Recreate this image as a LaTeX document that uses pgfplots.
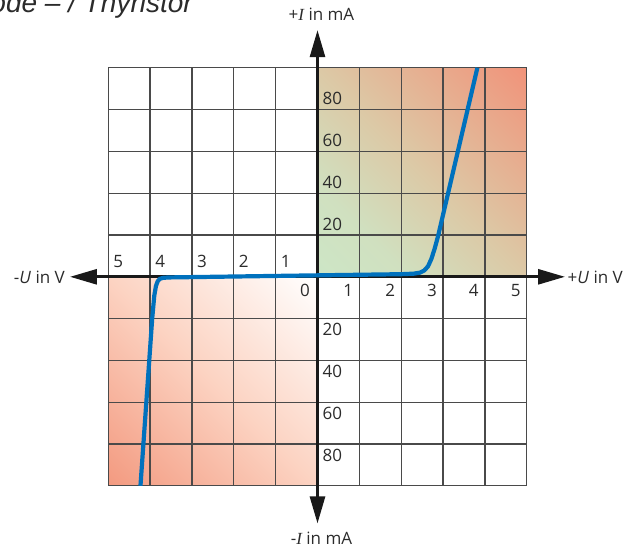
\documentclass[border=0pt]{standalone}
\usepackage{pgfplots}
\pgfplotsset{compat=1.18}
\usetikzlibrary{arrows.meta}
\usepackage{fontspec}
\setmainfont{Open Sans}
\newfontfamily\varfont{Liberation Serif}
\newfontfamily\titlefont{Liberation Sans}
\definecolor{curveblue}{HTML}{0071BD}
\definecolor{gridgray}{HTML}{4A4A4A}
\definecolor{qgreen}{HTML}{CDE6C6}
\definecolor{qtan}{HTML}{DCC9A6}
\definecolor{qsalmon}{HTML}{F1937A}
\definecolor{lsalmon}{HTML}{F39A80}
\definecolor{lmid}{HTML}{FCD3C2}
\definecolor{txt}{HTML}{2B2B2B}

% diagonal gradients; stops at 14.64bp and 85.36bp put the end colours in the quadrant corners
\pgfdeclareverticalshading{upquad}{100bp}{color(0bp)=(qgreen); color(14.64bp)=(qgreen);
  color(30bp)=(qgreen!80!qtan); color(50bp)=(qtan); color(85.36bp)=(qsalmon); color(100bp)=(qsalmon)}
\pgfdeclareverticalshading{lowquad}{100bp}{color(0bp)=(lsalmon); color(14.64bp)=(lsalmon);
  color(50bp)=(lmid); color(85.36bp)=(white); color(100bp)=(white)}

% characteristic curve (U in V, I in mA)
\pgfplotstableread{
U      I
-4.23  -100
-3.95  -20
-3.90  -9
-3.86  -4.4
-3.82  -2.2
-3.77  -1.0
-3.69  -0.5
-3.55  -0.3
0.00   0.7
2.00   1.25
2.30   1.5
2.45   2.0
2.55   3.0
2.64   5.0
2.72   8.5
2.80   13.5
2.88   19.4
3.82   100
}\curve

\begin{document}
\begin{tikzpicture}[font=\fontsize{17}{20}\selectfont, text=txt]
\begin{axis}[
  at={(0,0)}, anchor=origin,
  x=41.85pt, y=2.09pt,
  xmin=-5, xmax=5, ymin=-100, ymax=100,
  set layers, clip=false,
  xtick={-5,...,5}, ytick={-100,-80,...,100},
  xticklabels={}, yticklabels={},
  major tick length=0pt,
  grid=major,
  grid style={draw=gridgray, line width=1.2pt},
  axis line style={draw=gridgray, line width=1.2pt},
]
\begin{pgfonlayer}{axis background}
\shade[shading=upquad, shading angle=-45] (axis cs:0,0) rectangle (axis cs:5,100);
\shade[shading=lowquad, shading angle=-45] (axis cs:-5,-100) rectangle (axis cs:0,0);
\end{pgfonlayer}
\draw[black!90, line width=2.8pt, -{Triangle[length=27pt,width=15pt]}] (axis cs:0,0) -- (axis cs:5.914,0);
\draw[black!90, line width=2.8pt, -{Triangle[length=27pt,width=15pt]}] (axis cs:0,0) -- (axis cs:-5.914,0);
\draw[black!90, line width=2.8pt, -{Triangle[length=27pt,width=15pt]}] (axis cs:0,0) -- (axis cs:0,118);
\draw[black!90, line width=2.8pt, -{Triangle[length=27pt,width=15pt]}] (axis cs:0,0) -- (axis cs:0,-118);
\addplot[curveblue, line width=4.2pt, line join=round, no marks] table[x=U, y=I] {\curve};
\end{axis}

% tick numbers
\foreach \v in {1,...,5} {
  \node[anchor=base west, inner sep=0pt] at (-41.85*\v pt+5pt, 9.5pt) {\v};
  \node[anchor=base east, inner sep=0pt] at (41.85*\v pt-6pt, -20pt) {\v};
}
\node[anchor=base east, inner sep=0pt] at (-7.5pt, -20pt) {0};
\foreach \v in {20,40,60,80} {
  \node[anchor=base west, inner sep=0pt] at (5pt, 2.09*\v pt+5pt) {\v};
  \node[anchor=base west, inner sep=0pt] at (5pt, -2.09*\v pt-17pt) {\v};
}

% axis names
\node[anchor=base east, inner sep=0pt] at (-252.5pt, -6.2pt) {-\textit{U} in V};
\node[anchor=base west, inner sep=0pt] at (250pt, -6.5pt) {+\textit{U} in V};
\node[anchor=base, inner sep=0pt] at (4pt, 255.8pt) {+{\varfont\itshape I} in mA};
\node[anchor=base, inner sep=0pt] at (4pt, -267.2pt) {-{\varfont\itshape I} in mA};

% title, cut off at the top of the page
\node[anchor=base east, inner sep=0pt, font=\titlefont\itshape\fontsize{28}{30}\selectfont]
  at (-124.5pt, 264pt) {Diode – / Thyristor};

\pgfresetboundingbox
\path[use as bounding box] (-317.5pt,-275.2pt) rectangle (313.5pt,276.8pt);
\end{tikzpicture}
\end{document}
